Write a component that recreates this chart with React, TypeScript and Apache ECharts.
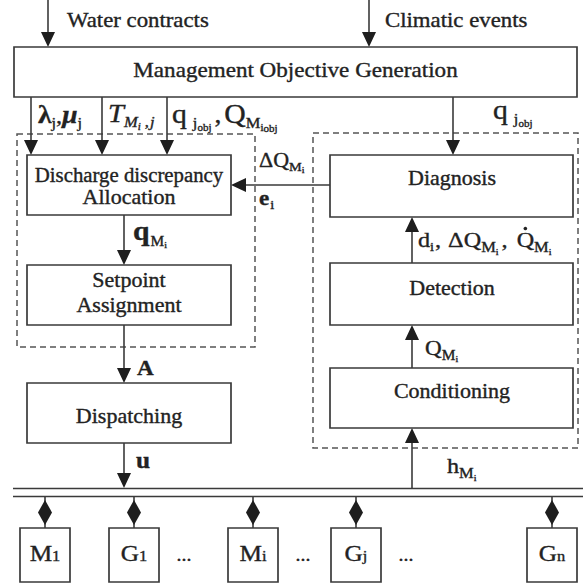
import React, { useEffect, useRef } from 'react';
import * as echarts from 'echarts';

const FAMILY = 'Liberation Serif';
const SX = 1.1;
const INK = '#222222';
const LINE = '#3a3a3a';

// ---- content ----
const inputLabels = ['Water contracts', 'Climatic events'];
const topBlock = 'Management Objective Generation';
const leftBlocks = [['Discharge discrepancy', 'Allocation'], ['Setpoint', 'Assignment'], ['Dispatching']];
const rightBlocks = ['Diagnosis', 'Detection', 'Conditioning'];
const unitLetters = ['M', 'G', 'M', 'G', 'G'];
const unitIndices = ['1', '1', 'i', 'j', 'n'];

type Part = { t: string; s: number; dy?: number; dx?: number; b?: boolean; i?: boolean; dot?: boolean };

let ctx: CanvasRenderingContext2D | null = null;
function fontStr(p: Part) {
  return `${p.i ? 'italic ' : ''}${p.b ? 'bold ' : ''}${p.s}px "${FAMILY}"`;
}
function measure(p: Part) {
  if (!ctx) ctx = document.createElement('canvas').getContext('2d');
  if (!ctx) return p.t.length * p.s * 0.5;
  ctx.font = fontStr(p);
  return ctx.measureText(p.t).width;
}

function textEl(t: string, x: number, baseline: number, size: number, opts: any = {}) {
  return {
    type: 'text',
    x,
    y: baseline - 0.34 * size,
    scaleX: opts.sx || SX,
    silent: true,
    style: {
      text: t,
      fill: INK,
      stroke: INK,
      lineWidth: 0.35,
      fontFamily: FAMILY,
      fontSize: size,
      fontWeight: opts.b ? 'bold' : 'normal',
      fontStyle: opts.i ? 'italic' : 'normal',
      align: opts.align || 'left',
      verticalAlign: 'middle',
    },
  };
}

function compose(parts: Part[], x: number, baseline: number, out: any[]) {
  let cx = x;
  for (const p of parts) {
    cx += p.dx || 0;
    const w = measure(p) * SX;
    out.push(textEl(p.t, cx, baseline + (p.dy || 0), p.s, { b: p.b, i: p.i }));
    if (p.dot) {
      const lead = p.t.length - 1;
      const wl = lead > 0 ? measure({ ...p, t: p.t.slice(0, lead) }) * SX : 0;
      out.push({
        type: 'circle',
        silent: true,
        shape: { cx: cx + wl + (w - wl) / 2, cy: baseline - p.s * 0.84, r: 1.8 },
        style: { fill: INK },
      });
    }
    cx += w;
  }
  return cx - x;
}

function widthOf(parts: Part[]) {
  return parts.reduce((a, p) => a + (p.dx || 0) + measure(p) * SX, 0);
}

function rect(x1: number, y1: number, x2: number, y2: number, dashed = false) {
  return {
    type: 'rect',
    silent: true,
    shape: { x: x1, y: y1, width: x2 - x1, height: y2 - y1 },
    style: dashed
      ? { fill: 'none', stroke: '#555', lineWidth: 1.5, lineDash: [6, 4] }
      : { fill: '#fff', stroke: LINE, lineWidth: 1.7 },
  };
}

function line(x1: number, y1: number, x2: number, y2: number, w = 1.6) {
  return {
    type: 'line',
    silent: true,
    shape: { x1, y1, x2, y2 },
    style: { stroke: LINE, lineWidth: w },
  };
}

const HL = 15;
const HW = 7;
function arrow(x1: number, y1: number, x2: number, y2: number) {
  const dx = Math.sign(x2 - x1);
  const dy = Math.sign(y2 - y1);
  const bx = x2 - dx * HL;
  const by = y2 - dy * HL;
  const px = -dy;
  const py = dx;
  return [
    line(x1, y1, bx, by),
    {
      type: 'polygon',
      silent: true,
      shape: { points: [[x2, y2], [bx + px * HW, by + py * HW], [bx - px * HW, by - py * HW]] },
      style: { fill: '#1e1e1e' },
    },
  ];
}

function buildElements() {
  const els: any[] = [];

  // dashed groups
  els.push(rect(17, 134, 255, 347, true));
  els.push(rect(313, 133, 578, 448, true));

  // top inputs
  els.push(...arrow(48, 0, 48, 47));
  els.push(...arrow(369, 0, 369, 47));
  els.push(textEl(inputLabels[0], 67, 27, 20, { sx: 1.14 }));
  els.push(textEl(inputLabels[1], 385, 27, 20, { sx: 1.14 }));

  // outputs of management box
  [31, 102, 167, 453].forEach((x) => els.push(...arrow(x, 97, x, 155)));

  // feedback arrow diagnosis -> allocation
  els.push(...arrow(330, 185, 231, 185));

  // left chain
  els.push(...arrow(124, 215, 124, 265));
  els.push(...arrow(124, 325, 124, 383));
  els.push(...arrow(124, 443, 124, 488));

  // right chain (upwards)
  els.push(...arrow(412, 263, 412, 217));
  els.push(...arrow(412, 368, 412, 325));
  els.push(...arrow(412, 488, 412, 428));

  // bus
  els.push(line(13, 488.5, 583, 488.5, 1.6));
  els.push(line(13, 496.5, 583, 496.5, 1.6));

  // boxes
  els.push(rect(14, 47, 577, 97));
  els.push(textEl(topBlock, 295.5, 77, 21, { align: 'center' }));

  const leftBoxes = [[155, 215], [265, 325], [383, 443]];
  const leftBase = [[182, 204], [287, 312], [423]];
  leftBoxes.forEach(([y1, y2], k) => {
    els.push(rect(27, y1, 231, y2));
    leftBlocks[k].forEach((t, j) =>
      els.push(textEl(t, 129, leftBase[k][j], 20, { align: 'center', sx: k === 0 && j === 0 ? 1.04 : SX })),
    );
  });

  const rightBoxes = [[155, 217], [263, 325], [368, 428]];
  const rightBase = [185, 295, 398];
  rightBoxes.forEach(([y1, y2], k) => {
    els.push(rect(330, y1, 573, y2));
    els.push(textEl(rightBlocks[k], 452, rightBase[k], 20, { align: 'center' }));
  });

  // units
  const unitX = [45, 134, 253, 356, 552];
  unitX.forEach((x, k) => {
    els.push(line(x, 497, x, 528));
    els.push({
      type: 'polygon',
      silent: true,
      shape: { points: [[x, 500], [x + 7, 512.5], [x, 525], [x - 7, 512.5]] },
      style: { fill: '#1e1e1e' },
    });
    els.push(rect(x - 25, 528, x + 25, 582));
    const parts: Part[] = [
      { t: unitLetters[k], s: 23 },
      { t: unitIndices[k], s: 15, dy: 0 },
    ];
    compose(parts, x - widthOf(parts) / 2, 561, els);
  });
  [184, 303, 406].forEach((x) => els.push(textEl('...', x, 561, 18, { align: 'center' })));

  // signal labels
  compose([
    { t: 'λ', s: 25, b: true }, { t: 'j', s: 15, dy: 5 }, { t: ',', s: 22 },
    { t: 'μ', s: 25, b: true, i: true }, { t: 'j', s: 15, dy: 5 },
  ], 38, 123, els);
  compose([
    { t: 'T', s: 26, i: true }, { t: 'M', s: 15, i: true, dy: 5 }, { t: 'i', s: 10, i: true, dy: 8 },
    { t: ' ,', s: 15, dy: 5 }, { t: 'j', s: 15, i: true, dy: 5, dx: 1 },
  ], 108, 122, els);
  compose([
    { t: 'q', s: 27 }, { t: 'j', s: 15, dy: 5, dx: 6 }, { t: 'obj', s: 10, dy: 8 },
    { t: ',', s: 25, dx: 3 }, { t: 'Q', s: 27, dx: 3 }, { t: 'M', s: 15, dy: 5 },
    { t: 'i', s: 10, dy: 8 }, { t: 'obj', s: 10, dy: 9 },
  ], 172, 123, els);
  compose([{ t: 'q', s: 27 }, { t: 'j', s: 15, dy: 5, dx: 6 }, { t: 'obj', s: 10, dy: 8 }], 493, 119, els);

  compose([{ t: 'ΔQ', s: 20 }, { t: 'M', s: 13, dy: 4 }, { t: 'i', s: 9, dy: 6 }], 259, 167, els);
  compose([{ t: 'e', s: 21, b: true }, { t: 'i', s: 13, dy: 4, dx: 1 }], 259, 205, els);
  compose([{ t: 'q', s: 27, b: true }, { t: 'M', s: 14, dy: 6, dx: 1 }, { t: 'i', s: 9, dy: 8 }], 133, 240, els);
  compose([{ t: 'A', s: 21, b: true }], 137, 375, els);
  compose([{ t: 'u', s: 23, b: true }], 136, 468, els);

  compose([
    { t: 'd', s: 22 }, { t: 'i', s: 13, dy: 4 }, { t: ',', s: 22, dx: 1 }, { t: 'ΔQ', s: 22, dx: 7 },
    { t: 'M', s: 15, dy: 5 }, { t: 'i', s: 9, dy: 8 },
    { t: ',', s: 22, dx: 3 }, { t: 'Q', s: 22, dot: true, dx: 9 }, { t: 'M', s: 15, dy: 5 }, { t: 'i', s: 9, dy: 8 },
  ], 418, 247, els);
  compose([{ t: 'Q', s: 21 }, { t: 'M', s: 14, dy: 5 }, { t: 'i', s: 9, dy: 7 }], 425, 355, els);
  compose([{ t: 'h', s: 22 }, { t: 'M', s: 15, dy: 5 }, { t: 'i', s: 9, dy: 8 }], 447, 473, els);

  return els;
}

export default function App() {
  const ref = useRef<HTMLDivElement>(null);
  useEffect(() => {
    document.body.style.margin = '0';
    if (!ref.current) return;
    const chart = echarts.init(ref.current, null, { renderer: 'svg' });
    chart.setOption({
      animation: false,
      backgroundColor: '#ffffff',
      graphic: { elements: buildElements() },
    });
    return () => chart.dispose();
  }, []);
  return <div ref={ref} style={{ width: 583, height: 586 }} />;
}
